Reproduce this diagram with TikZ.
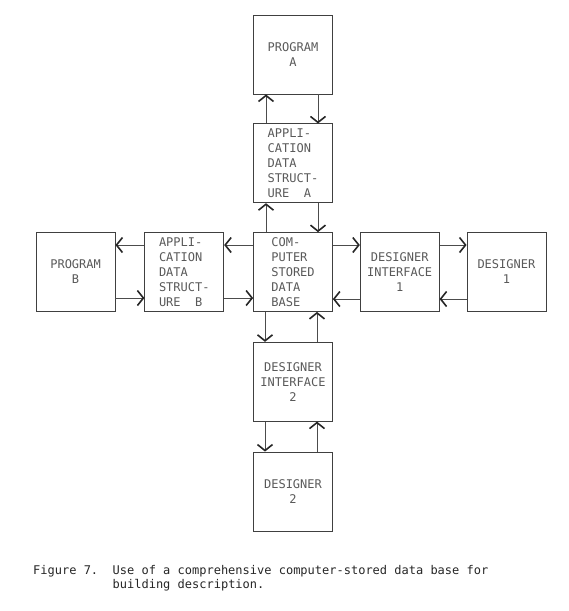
\documentclass[tikz,border=0pt]{standalone}
\usepackage{fontspec}
\setmonofont{DejaVu Sans Mono}
\usetikzlibrary{arrows.meta,positioning,calc}

\begin{document}
\begin{tikzpicture}[
    x=1pt,y=1pt,
    font=\ttfamily\fontsize{12}{15}\selectfont,
    node distance=29pt,
    unit/.style={draw=black!75,line width=0.7pt,minimum size=79pt,inner sep=0pt,align=center,text=black!65},
    flow/.style={draw=black!70,line width=0.6pt,-{Straight Barb[length=6pt,width=15pt,line width=1.6pt,black!85]}}
]
\useasboundingbox (0,0) rectangle (569,-611);

% centre and the four arms
\node[unit, align=left] (db) at (293,-272) {COM-\\PUTER\\STORED\\DATA\\BASE};
\node[unit, align=left, above=of db] (aa) {APPLI-\\CATION\\DATA\\STRUCT-\\URE\ \ A};
\node[unit, above=of aa] (pa) {PROGRAM\\A};
\node[unit, align=left, left=of db] (ab) {APPLI-\\CATION\\DATA\\STRUCT-\\URE\ \ B};
\node[unit, left=of ab] (pb) {PROGRAM\\B};
\node[unit, right=27pt of db] (di1) {DESIGNER\\INTERFACE\\1};
\node[unit, right=27pt of di1] (d1) {DESIGNER\\1};
\node[unit, below=30pt of db] (di2) {DESIGNER\\INTERFACE\\2};
\node[unit, below=30pt of di2] (d2) {DESIGNER\\2};

% upper arm
\draw[flow] ([xshift=-27pt]db.north) -- ([xshift=-27pt]aa.south);
\draw[flow] ([xshift=-27pt]aa.north) -- ([xshift=-27pt]pa.south);
\draw[flow] ([xshift=25pt]pa.south) -- ([xshift=25pt]aa.north);
\draw[flow] ([xshift=25pt]aa.south) -- ([xshift=25pt]db.north);

% lower arm
\draw[flow] ([xshift=-28pt]db.south) -- ([xshift=-28pt]di2.north);
\draw[flow] ([xshift=-28pt]di2.south) -- ([xshift=-28pt]d2.north);
\draw[flow] ([xshift=24pt]d2.north) -- ([xshift=24pt]di2.south);
\draw[flow] ([xshift=24pt]di2.north) -- ([xshift=24pt]db.south);

% left arm
\draw[flow] ([yshift=27pt]db.west) -- ([yshift=27pt]ab.east);
\draw[flow] ([yshift=27pt]ab.west) -- ([yshift=27pt]pb.east);
\draw[flow] ([yshift=-26pt]pb.east) -- ([yshift=-26pt]ab.west);
\draw[flow] ([yshift=-26pt]ab.east) -- ([yshift=-26pt]db.west);

% right arm
\draw[flow] ([yshift=27pt]db.east) -- ([yshift=27pt]di1.west);
\draw[flow] ([yshift=27pt]di1.east) -- ([yshift=27pt]d1.west);
\draw[flow] ([yshift=-27pt]d1.west) -- ([yshift=-27pt]di1.east);
\draw[flow] ([yshift=-27pt]di1.west) -- ([yshift=-27pt]db.east);

% caption
\node[anchor=base west, inner sep=0pt, align=left, text=black!85,
      font=\ttfamily\fontsize{12}{14}\selectfont] (caption) at (33,-588)
      {Figure 7.\ \ Use of a comprehensive computer-stored data base for\\
       \phantom{Figure 7.\ \ }building description.};
\end{tikzpicture}
\end{document}
